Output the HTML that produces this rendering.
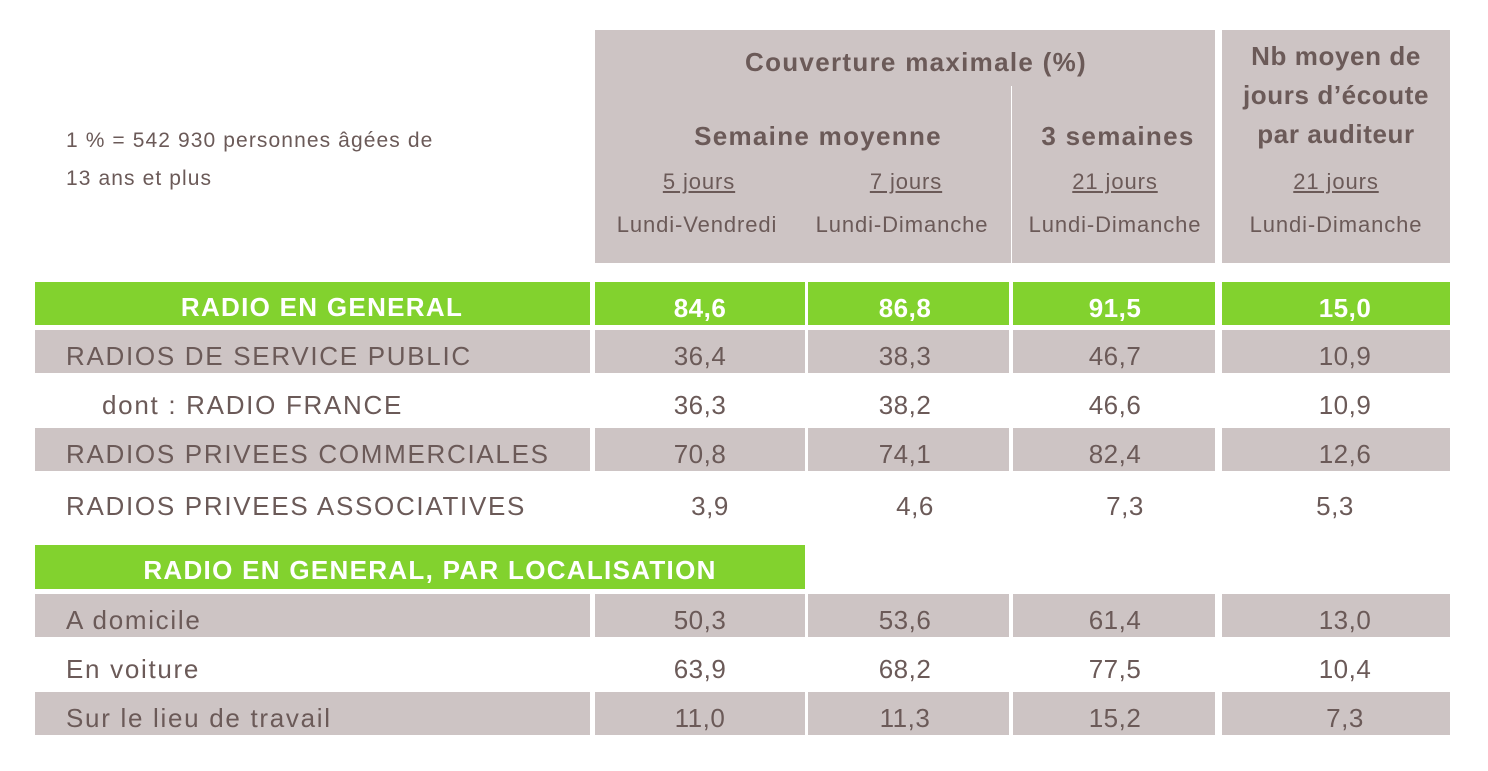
<!DOCTYPE html>
<html><head><meta charset="utf-8"><style>
body{margin:0;width:1488px;height:771px;background:#fff;position:relative;overflow:hidden;font-family:"Liberation Sans",sans-serif;color:#6b5a58}
.a{position:absolute;box-sizing:border-box}
.g{background:#cdc4c4}.gr{background:#82d22e}
.t{position:absolute;white-space:nowrap;text-align:center;transform:translateX(-50%)}
.b{font-weight:bold}
.h{font-size:26px;letter-spacing:1.3px}
.s{font-size:22px;letter-spacing:0.9px}
</style></head><body>
<div class="a" style="left:66px;top:122px;font-size:21px;letter-spacing:1.1px;line-height:38px">1 % = 542 930 personnes âgées de<br>13 ans et plus</div>
<div class="a g" style="left:595px;top:30px;width:620px;height:233px"></div>
<div class="a" style="left:1011px;top:86px;width:1px;height:177px;background:#fff"></div>
<div class="a g" style="left:1222px;top:30px;width:228px;height:233px"></div>
<div class="t b h" style="left:916px;top:47px">Couverture maximale (%)</div>
<div class="t b h" style="left:818px;top:121px">Semaine moyenne</div>
<div class="t b h" style="left:1118px;top:121px">3 semaines</div>
<div class="t b h" style="left:1336px;top:37px;line-height:39px;letter-spacing:0.6px">Nb moyen de<br>jours d’écoute<br>par auditeur</div>
<div class="t s" style="left:699px;top:169px;text-decoration:underline">5 jours</div>
<div class="t s" style="left:906px;top:169px;text-decoration:underline">7 jours</div>
<div class="t s" style="left:1115px;top:169px;text-decoration:underline">21 jours</div>
<div class="t s" style="left:1336px;top:169px;text-decoration:underline">21 jours</div>
<div class="t s" style="left:697px;top:212px">Lundi-Vendredi</div>
<div class="t s" style="left:902px;top:212px">Lundi-Dimanche</div>
<div class="t s" style="left:1115px;top:212px">Lundi-Dimanche</div>
<div class="t s" style="left:1336px;top:212px">Lundi-Dimanche</div>
<div id="rows"></div>
<script>
const labels=["RADIO EN GENERAL","RADIOS DE SERVICE PUBLIC","dont : RADIO FRANCE","RADIOS PRIVEES COMMERCIALES","RADIOS PRIVEES ASSOCIATIVES","RADIO EN GENERAL, PAR LOCALISATION","A domicile","En voiture","Sur le lieu de travail"];
const col5j=["84,6","36,4","36,3","70,8","3,9",null,"50,3","63,9","11,0"];
const col7j=["86,8","38,3","38,2","74,1","4,6",null,"53,6","68,2","11,3"];
const col21j=["91,5","46,7","46,6","82,4","7,3",null,"61,4","77,5","15,2"];
const colNb=["15,0","10,9","10,9","12,6","5,3",null,"13,0","10,4","7,3"];
const styles=["green","gray","white","gray","white","greenwide","gray","white","gray"];
const tops=[282,330,379,428,480,545,594,643,692];
const cells=[[35,555],[595,210],[808,201],[1013,202],[1222,228]];
const centers=[700,905,1115,1345];
const cols=[col5j,col7j,col21j,colNb];
const root=document.getElementById('rows');
labels.forEach((lab,i)=>{
  const s=styles[i],top=tops[i];
  if(s==='gray'||s==='green'){
    cells.forEach(c=>{
      const d=document.createElement('div');d.className='a '+(s==='gray'?'g':'gr');
      
      
      d.style.cssText=`left:${c[0]}px;top:${top}px;width:${c[1]}px;height:43px`;root.appendChild(d);
    });
  }
  if(s==='greenwide'){
    const d=document.createElement('div');d.className='a gr';
    
    
    d.style.cssText=`left:35px;top:${top}px;width:770px;height:44px`;root.appendChild(d);
  }
  const t=document.createElement('div');
  
  
  const green=s.startsWith('green');
  if(green){
    t.className='t b';
    const cx=s==='green'?322:430;
    t.style.cssText=`left:${cx}px;top:${top+10}px;font-size:26px;letter-spacing:1.3px;color:#fff`;
  }else{
    t.className='a';
    const lx=i===2?102:66;
    t.style.cssText=`left:${lx}px;top:${top+11}px;font-size:26px;letter-spacing:1.7px`;
  }
  t.textContent=lab;root.appendChild(t);
  cols.forEach((col,k)=>{
    if(col[i]==null)return;
    const v=document.createElement('div');
    
    
    v.className='t'+(green?' b':'');
    const off=(i===4&&k<3)?10:(i===4?-10:0);
    v.style.cssText=`left:${centers[k]+off}px;top:${top+11}px;font-size:26px;letter-spacing:0.5px;${green?'color:#fff':''}`;
    v.textContent=col[i];root.appendChild(v);
  });
});
</script>
</body></html>
